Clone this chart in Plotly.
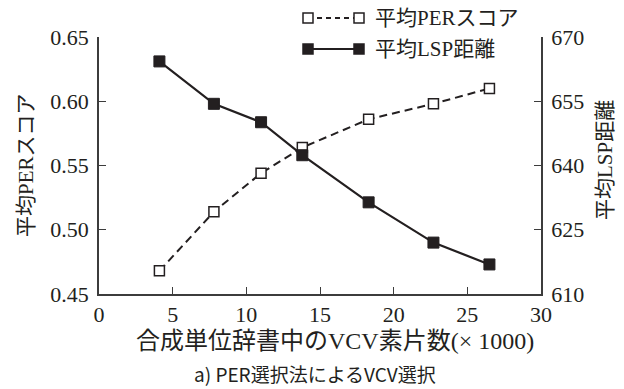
import plotly.graph_objects as go

# VCV unit counts in the synthesis dictionary (x 1000)
vcv_counts = [4.1, 7.8, 11.0, 13.8, 18.3, 22.7, 26.5]
# Mean PER score for each dictionary size
per_score = [0.468, 0.514, 0.544, 0.564, 0.586, 0.598, 0.610]
# Mean LSP distance for each dictionary size
lsp_distance = [664.3, 654.4, 650.1, 642.4, 631.4, 622.0, 616.9]

per_label = "平均PERスコア"
lsp_label = "平均LSP距離"
x_title = "合成単位辞書中のVCV素片数(× 1000)"
caption = "a) PER選択法によるVCV選択"

INK = "#231f20"
AXIS = "#3c3c3c"
SERIF = "Liberation Serif, Noto Sans CJK JP, serif"
SANS = "Noto Sans CJK JP, sans-serif"

W, H = 624, 389
L, R, T, B = 99, 83, 37, 95
PW, PH = W - L - R, H - T - B


def px(x):
    return (x - L) / PW


def py(y):
    return (H - B - y) / PH


fig = go.Figure()

fig.add_trace(go.Scatter(
    x=vcv_counts, y=lsp_distance, name=lsp_label, yaxis="y2",
    mode="lines+markers",
    line=dict(color=INK, width=2.2),
    marker=dict(symbol="square", size=11, color=INK,
                line=dict(color=INK, width=1)),
    showlegend=False,
))

fig.add_trace(go.Scatter(
    x=vcv_counts, y=per_score, name=per_label,
    mode="lines+markers",
    line=dict(color=INK, width=2, dash="8px,5px"),
    marker=dict(symbol="square", size=10, color="white",
                line=dict(color=INK, width=1.5)),
    showlegend=False,
))

# Hand-built legend: line sample with a marker at each end
legend_rows = [
    (per_label, 18, "5px,4px", "white"),
    (lsp_label, 49, "solid", INK),
]
x0, x1 = 308, 359
for label, yy, dash, fill in legend_rows:
    fig.add_shape(type="line", xref="paper", yref="paper",
                  x0=px(x0), x1=px(x1), y0=py(yy), y1=py(yy),
                  line=dict(color=INK, width=2, dash=dash))
    for cx in (x0, x1):
        fig.add_shape(type="rect", xref="paper", yref="paper",
                      x0=px(cx - 5), x1=px(cx + 5), y0=py(yy + 5), y1=py(yy - 5),
                      fillcolor=fill, line=dict(color=INK, width=1.5))
    fig.add_annotation(text=label, xref="paper", yref="paper",
                       x=px(373), y=py(yy), xanchor="left", yanchor="middle",
                       showarrow=False, font=dict(family=SERIF, size=21, color=INK))

# Axis titles
fig.add_annotation(text=x_title, xref="paper", yref="paper",
                   x=px(335), y=py(341), xanchor="center", yanchor="middle",
                   showarrow=False, font=dict(family=SERIF, size=24, color=INK))
fig.add_annotation(text=per_label, xref="paper", yref="paper", textangle=-90,
                   x=px(26), y=py(165), xanchor="center", yanchor="middle",
                   showarrow=False, font=dict(family=SERIF, size=21, color=INK))
fig.add_annotation(text=lsp_label, xref="paper", yref="paper", textangle=-90,
                   x=px(605), y=py(160), xanchor="center", yanchor="middle",
                   showarrow=False, font=dict(family=SERIF, size=21, color=INK))

fig.add_annotation(text=caption, xref="paper", yref="paper",
                   x=px(315), y=py(373), xanchor="center", yanchor="middle",
                   showarrow=False, font=dict(family=SANS, size=19, color=INK))

axis_common = dict(
    showline=True, linecolor=AXIS, linewidth=1.5,
    ticks="inside", ticklen=7, tickwidth=1.2, tickcolor=AXIS,
    showgrid=False, zeroline=False,
    tickfont=dict(family="Liberation Serif", size=22, color=INK),
)

fig.update_layout(
    width=W, height=H,
    font=dict(family=SERIF, color=INK),
    margin=dict(l=L, r=R, t=T, b=B),
    paper_bgcolor="white", plot_bgcolor="white",
    xaxis=dict(range=[0, 30], dtick=5, tick0=0, **axis_common),
    yaxis=dict(range=[0.45, 0.65], dtick=0.05, tick0=0.45, tickformat=".2f",
               ticklabelstandoff=4, **axis_common),
    yaxis2=dict(range=[610, 670], dtick=15, tick0=610, overlaying="y", side="right",
                ticklabelstandoff=4, **axis_common),
)

fig.write_html("out.html")
